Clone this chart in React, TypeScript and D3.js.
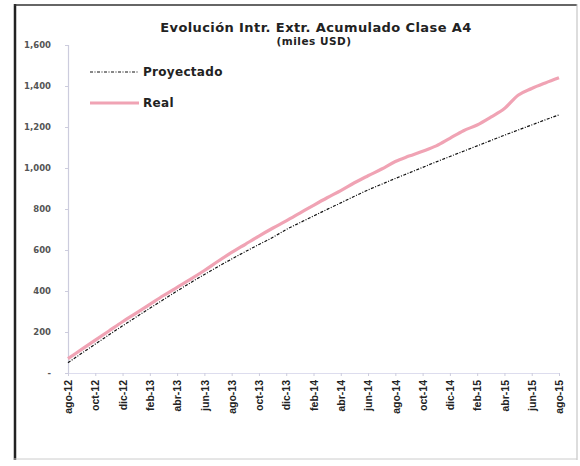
import React, { useEffect, useRef } from 'react';
import * as d3 from 'd3';

const months = [
  'ago-12', 'sep-12', 'oct-12', 'nov-12', 'dic-12', 'ene-13', 'feb-13', 'mar-13', 'abr-13', 'may-13',
  'jun-13', 'jul-13', 'ago-13', 'sep-13', 'oct-13', 'nov-13', 'dic-13', 'ene-14', 'feb-14', 'mar-14',
  'abr-14', 'may-14', 'jun-14', 'jul-14', 'ago-14', 'sep-14', 'oct-14', 'nov-14', 'dic-14', 'ene-15',
  'feb-15', 'mar-15', 'abr-15', 'may-15', 'jun-15', 'jul-15', 'ago-15',
];

const proyectado = [
  50, 96, 141, 186, 230, 273, 316, 358, 400, 441,
  481, 519, 556, 592, 627, 661, 700, 733, 766, 798,
  830, 862, 893, 921, 949, 976, 1003, 1030, 1056, 1082,
  1108, 1134, 1160, 1185, 1210, 1235, 1259,
];

const real = [
  70, 115, 160, 205, 250, 292, 335, 378, 418, 458,
  500, 545, 588, 628, 668, 706, 742, 780, 818, 855,
  890, 928, 962, 995, 1032, 1058, 1082, 1108, 1145, 1182,
  1210, 1248, 1290, 1355, 1388, 1415, 1440,
];

const yTicks = [0, 200, 400, 600, 800, 1000, 1200, 1400, 1600];

const W = 580;
const H = 466;
const font = 'Arial, "Liberation Sans", sans-serif';
const wide = '"DejaVu Sans", Verdana, sans-serif';

export default function App() {
  const svgRef = useRef<SVGSVGElement>(null);

  useEffect(() => {
    if (!svgRef.current) return;
    const svg = d3.select(svgRef.current);
    svg.selectAll('*').remove();

    const left = 68;
    const right = 559;
    const top = 45;
    const bottom = 373;

    const x = d3.scalePoint<string>().domain(months).range([left, right]);
    const y = d3.scaleLinear().domain([0, 1600]).range([bottom, top]);

    svg.append('rect').attr('width', W).attr('height', H).attr('fill', '#fff');

    // frame
    svg.append('line').attr('x1', 15).attr('x2', 15).attr('y1', 4).attr('y2', 460)
      .attr('stroke', '#222').attr('stroke-width', 2.5);
    svg.append('line').attr('x1', 14).attr('x2', 577).attr('y1', 5).attr('y2', 5)
      .attr('stroke', '#333').attr('stroke-width', 1.5);
    svg.append('line').attr('x1', 577).attr('x2', 577).attr('y1', 4).attr('y2', 460)
      .attr('stroke', '#bbb').attr('stroke-width', 1);
    svg.append('line').attr('x1', 14).attr('x2', 577).attr('y1', 459).attr('y2', 459)
      .attr('stroke', '#ccc').attr('stroke-width', 1);

    // title
    const title = svg.append('text').attr('text-anchor', 'middle')
      .attr('font-family', wide).attr('font-weight', 'bold').attr('fill', '#222');
    title.append('tspan').attr('x', 316).attr('y', 32).attr('font-size', 13)
      .attr('letter-spacing', 0.4)
      .text('Evolución Intr. Extr. Acumulado Clase A4');
    title.append('tspan').attr('x', 314).attr('y', 45).attr('font-size', 10.5)
      .attr('letter-spacing', 0.5)
      .text('(miles USD)');

    // y axis
    const yAxis = svg.append('g').attr('transform', `translate(${left},0)`)
      .call(d3.axisLeft(y).tickValues(yTicks).tickSize(3)
        .tickFormat(d => (+d === 0 ? '-' : d3.format(',')(+d))));
    yAxis.select('.domain').attr('stroke', '#ccd').attr('stroke-width', 1.2);
    yAxis.selectAll('.tick line').attr('stroke', '#ccd');
    yAxis.selectAll('.tick text').attr('x', -17).attr('font-family', wide)
      .attr('font-size', 8.5).attr('font-weight', 'bold').attr('fill', '#555');

    // x axis
    const xAxis = svg.append('g').attr('transform', `translate(0,${bottom})`)
      .call(d3.axisBottom(x).tickValues(months.filter((_, i) => i % 2 === 0)).tickSize(3));
    xAxis.select('.domain').attr('stroke', '#dde').attr('stroke-width', 1);
    xAxis.selectAll('.tick line').attr('stroke', '#ccd');
    xAxis.selectAll('.tick text')
      .attr('transform', 'rotate(-90)')
      .attr('text-anchor', 'end')
      .attr('x', -7).attr('y', 0).attr('dy', '0.35em')
      .attr('font-family', font).attr('font-size', 10.5).attr('font-weight', 'bold').attr('fill', '#222');

    const line = d3.line<number>()
      .x((_, i) => x(months[i]) ?? 0)
      .y(d => y(d))
      .curve(d3.curveMonotoneX);

    svg.append('path').datum(real)
      .attr('fill', 'none').attr('stroke', '#f0a3b4').attr('stroke-width', 3.2)
      .attr('stroke-linejoin', 'round').attr('d', line);

    svg.append('path').datum(proyectado)
      .attr('fill', 'none').attr('stroke', '#111').attr('stroke-width', 1.2)
      .attr('stroke-dasharray', '3 1.5 1 1.5').attr('d', line);

    // legend
    const legend = svg.append('g').attr('font-family', wide).attr('font-weight', 'bold')
      .attr('font-size', 12).attr('fill', '#222');
    legend.append('line').attr('x1', 90).attr('x2', 139).attr('y1', 72).attr('y2', 72)
      .attr('stroke', '#111').attr('stroke-width', 1).attr('stroke-dasharray', '3 1.5 1 1.5');
    legend.append('text').attr('x', 143).attr('y', 76).attr('letter-spacing', 0.3).text('Proyectado');
    legend.append('line').attr('x1', 90).attr('x2', 139).attr('y1', 103).attr('y2', 103)
      .attr('stroke', '#f0a3b4').attr('stroke-width', 3);
    legend.append('text').attr('x', 143).attr('y', 107).attr('letter-spacing', 0.3).text('Real');
  }, []);

  return (
    <svg
      ref={svgRef}
      width={W}
      height={H}
      style={{ position: 'absolute', left: 0, top: 0, display: 'block' }}
    />
  );
}
